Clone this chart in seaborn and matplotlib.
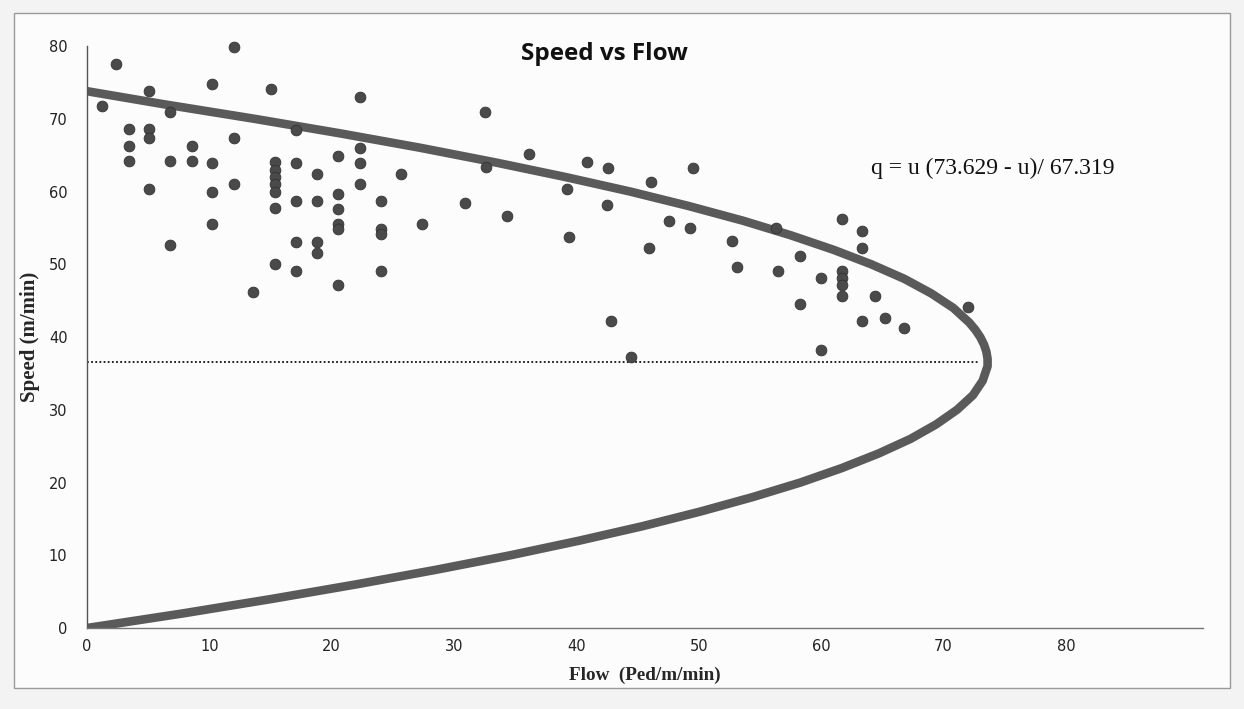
import matplotlib
matplotlib.use('Agg')
import matplotlib.pyplot as plt
import seaborn as sns
from matplotlib.patches import Rectangle

# observed flow (Ped/m/min) and speed (m/min)
obs_flow = [2.4, 12.0, 10.2, 15.0, 22.3, 1.2, 5.1, 6.8, 17.1,
            3.4, 3.4, 3.4, 5.1, 5.1, 8.6, 8.6, 6.8, 10.2, 5.1, 10.2, 12.0, 12.0,
            15.4, 15.4, 15.4, 15.4, 15.4, 17.1, 18.8, 20.5, 22.3, 22.3, 22.3,
            17.1, 18.8, 20.5, 20.5, 24.0, 15.4,
            10.2, 20.5, 20.5, 24.0, 24.0, 6.8, 17.1, 18.8, 18.8, 15.4, 17.1, 24.0,
            20.5, 13.6,
            32.5, 36.1, 40.9, 42.6, 46.1, 49.5, 32.6, 25.7, 39.2, 30.9, 42.5,
            34.3, 27.4, 39.4, 47.6, 45.9, 42.8, 44.5,
            49.3, 52.7, 53.1, 56.3, 56.5, 58.3, 58.3, 60.0, 60.0, 61.7,
            61.7, 61.7, 61.7, 61.7, 63.3, 63.3, 64.4, 63.3, 65.2, 66.8, 72.0]
obs_speed = [77.6, 79.9, 74.8, 74.1, 73.0, 71.7, 73.8, 71.0, 68.5,
             68.6, 66.3, 64.2, 68.6, 67.4, 66.3, 64.2, 64.2, 63.9, 60.3, 59.9, 67.4, 61.1,
             64.0, 63.0, 62.0, 61.0, 60.0, 63.9, 62.4, 64.9, 66.0, 63.9, 61.1,
             58.7, 58.7, 59.6, 57.6, 58.7, 57.7,
             55.6, 55.5, 54.9, 54.9, 54.1, 52.7, 53.1, 53.1, 51.6, 50.1, 49.1, 49.1,
             47.1, 46.2,
             71.0, 65.2, 64.1, 63.2, 61.3, 63.2, 63.4, 62.4, 60.3, 58.4, 58.1,
             56.6, 55.5, 53.7, 56.0, 52.2, 42.2, 37.2,
             55.0, 53.2, 49.6, 55.0, 49.1, 51.2, 44.6, 48.1, 38.2, 56.2,
             49.1, 48.1, 47.2, 45.6, 54.6, 52.2, 45.7, 42.2, 42.6, 41.3, 44.1]

# model curve
curve_speed = [0, 2, 4, 6, 8, 10, 12, 14, 16, 18, 20, 22, 24, 26, 28, 30, 32, 33, 34,
               35, 36, 37, 38, 39, 40, 41, 42, 44, 46, 48, 50, 52, 54, 56, 58, 60,
               62, 64, 66, 68, 70, 72, 73.8]
curve_flow = [0, 7.8, 15.1, 22.0, 28.5, 34.6, 40.2, 45.4, 50.1, 54.4, 58.3, 61.7,
              64.7, 67.3, 69.4, 71.1, 72.4, 72.8, 73.2, 73.4, 73.6, 73.6, 73.5, 73.3,
              73.0, 72.6, 72.1, 70.8, 69.0, 66.8, 64.1, 61.0, 57.5, 53.6, 49.2, 44.4,
              39.1, 33.4, 27.3, 20.7, 13.7, 6.3, 0]

capacity_speed = 36.6
x_ticks = [0, 10, 20, 30, 40, 50, 60, 70, 80]
y_ticks = [0, 10, 20, 30, 40, 50, 60, 70, 80]

sns.set_theme(style="white")
plt.rcParams['font.family'] = ['DejaVu Sans']

fig = plt.figure(figsize=(12.44, 7.09), dpi=100, facecolor='#f3f3f3')
fig.patches.append(Rectangle((0.0113, 0.0296), 0.9774, 0.952, transform=fig.transFigure,
                             facecolor='#fcfcfc', edgecolor='#9a9a9a', lw=1.0, zorder=-5))
ax = fig.add_axes([0.0699, 0.1142, 0.8971, 0.8208])
ax.set_zorder(2)
ax.set_facecolor('none')

# fitted curve
sns.lineplot(x=curve_flow, y=curve_speed, sort=False, estimator=None, ax=ax,
             color='#5a5a5a', lw=6.2, zorder=2, solid_capstyle='round',
             solid_joinstyle='round')

# observations
sns.scatterplot(x=obs_flow, y=obs_speed, ax=ax, s=60, color='#4a4a4a',
                edgecolor='#333333', linewidth=0.6, zorder=3, clip_on=False)

# capacity line
ax.plot([0, 72.8], [capacity_speed, capacity_speed], color='#111111',
        lw=1.3, linestyle=(0, (1, 1.3)), zorder=1)

ax.set_xlim(0, 91.2)
ax.set_ylim(0, 80)
ax.set_xticks(x_ticks)
ax.set_yticks(y_ticks)
ax.tick_params(axis='both', length=0, labelsize=10.5, colors='#222222')
ax.tick_params(axis='x', pad=8)
ax.tick_params(axis='y', pad=14)

for s in ['top', 'right']:
    ax.spines[s].set_visible(False)
ax.spines['left'].set_color('#555555')
ax.spines['bottom'].set_color('#777777')
ax.spines['left'].set_linewidth(1.0)
ax.spines['bottom'].set_linewidth(1.0)

ax.set_xlabel('Flow  (Ped/m/min)', family='Liberation Serif', fontweight='bold',
              fontsize=13.8, labelpad=9)
ax.set_ylabel('Speed (m/min)', family='Liberation Serif', fontweight='bold',
              fontsize=15, labelpad=6)
ax.text(42.3, 78.9, 'Speed vs Flow', family='Open Sans', fontweight='bold',
        fontsize=17.5, ha='center', va='center', color='#111111')
ax.text(64.1, 63.2, 'q = u (73.629 - u)/ 67.319', family='Liberation Serif',
        fontsize=17, color='#111111', va='center')

fig.savefig('out.png', dpi=100, facecolor=fig.get_facecolor())
plt.close()
